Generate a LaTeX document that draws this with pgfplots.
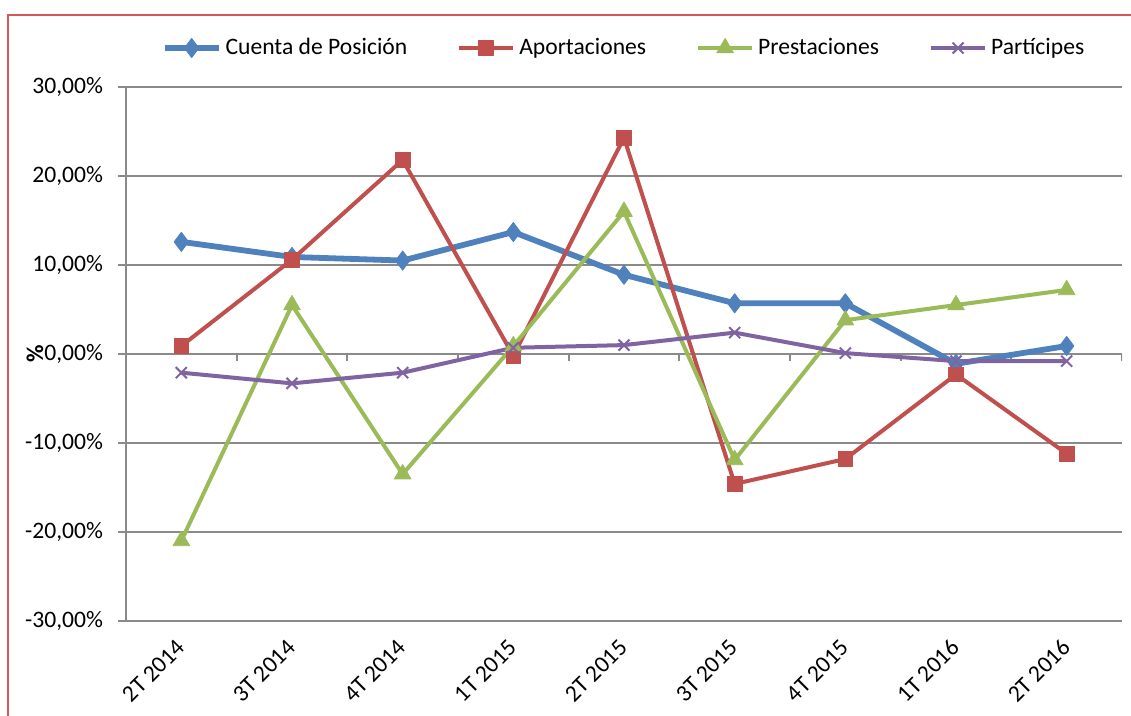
\documentclass[border=0pt]{standalone}
\usepackage{fontspec}
\setmainfont{Carlito}
\usepackage{pgfplots}
\pgfplotsset{compat=1.18}

\definecolor{cblue}{HTML}{4F81BD}
\definecolor{cred}{HTML}{C0504D}
\definecolor{cgreen}{HTML}{9BBB59}
\definecolor{cpurple}{HTML}{8064A2}
\definecolor{gridgray}{HTML}{8A8A8A}
\definecolor{framered}{HTML}{D05A5A}

\begin{document}
\begin{tikzpicture}
\useasboundingbox (0,0) rectangle (565.5pt,358pt);
% chart frame (only left and top edges are visible)
\draw[framered, line width=1pt] (4pt,0) -- (4pt,350.5pt) -- (565.5pt,350.5pt);
\begin{axis}[
    at={(63pt,47.5pt)}, anchor=south west,
    scale only axis,
    width=498pt, height=267pt,
    xmin=-0.5, xmax=8.5,
    ymin=-30, ymax=30,
    xtick={0,...,8},
    xticklabels={2T 2014,3T 2014,4T 2014,1T 2015,2T 2015,3T 2015,4T 2015,1T 2016,2T 2016},
    ytick={-30,-20,...,30},
    yticklabel={\pgfmathprintnumber[fixed,fixed zerofill,precision=2,use comma]{\tick}\%},
    /pgf/number format/assume math mode=true,
    axis lines*=left,
    x axis line style={draw=none},
    y axis line style={gridgray, line width=1pt},
    major x tick style={draw=none},
    major y tick style={gridgray, line width=1pt},
    tick align=outside,
    major tick length=4pt,
    ymajorgrids,
    grid style={gridgray, line width=1pt},
    ticklabel style={font=\fontsize{11.8}{14}\selectfont},
    yticklabel style={xshift=-4pt},
    xticklabel style={rotate=45, anchor=east, yshift=-5pt, xshift=-2pt},
    ylabel={\textbf{\%}},
    ylabel style={at={(axis description cs:-0.0914,0.5)}, anchor=center, font=\fontsize{12}{14}\selectfont},
    legend columns=4,
    legend style={at={(0.501,1.073)}, anchor=center, draw=none, fill=none,
        font=\fontsize{11.8}{14}\selectfont,
        /tikz/every even column/.append style={column sep=23pt}},
    legend image code/.code={\draw[mark repeat=2,mark phase=2] plot coordinates {(0pt,0pt) (13.5pt,0pt) (27pt,0pt)};},
    every axis plot/.append style={line join=round},
]
% horizontal axis at zero with category separators
\draw[gridgray, line width=1pt] (axis cs:-0.5,0) -- (axis cs:8.5,0);
\pgfplotsinvokeforeach{-0.5,0.5,1.5,2.5,3.5,4.5,5.5,6.5,7.5,8.5}{
    \draw[gridgray, line width=1pt] (axis cs:#1,0) -- ([yshift=-3.5pt]axis cs:#1,0);
}

\addplot[cblue, line width=2.9pt, mark=diamond*, mark size=4.8pt, mark options={solid, line width=0.4pt}]
    coordinates {(0,12.6) (1,10.9) (2,10.5) (3,13.7) (4,8.9) (5,5.7) (6,5.7) (7,-1.1) (8,0.9)};
\addlegendentry{Cuenta de Posición}
\addplot[cred, line width=2pt, mark=square*, mark size=3.7pt, mark options={solid, line width=0.4pt}]
    coordinates {(0,0.9) (1,10.6) (2,21.8) (3,-0.2) (4,24.3) (5,-14.6) (6,-11.8) (7,-2.3) (8,-11.2)};
\addlegendentry{Aportaciones}
\addplot[cgreen, line width=2pt, mark=triangle*, mark size=4.8pt, mark options={solid, line width=0.4pt}]
    coordinates {(0,-21.0) (1,5.5) (2,-13.5) (3,0.9) (4,16.0) (5,-11.9) (6,3.8) (7,5.5) (8,7.2)};
\addlegendentry{Prestaciones}
\addplot[cpurple, line width=2pt, mark=x, mark size=3.9pt, mark options={solid, line width=1pt}]
    coordinates {(0,-2.1) (1,-3.3) (2,-2.1) (3,0.7) (4,1.0) (5,2.4) (6,0.1) (7,-0.8) (8,-0.8)};
\addlegendentry{Partícipes}
\end{axis}
\end{tikzpicture}
\end{document}
